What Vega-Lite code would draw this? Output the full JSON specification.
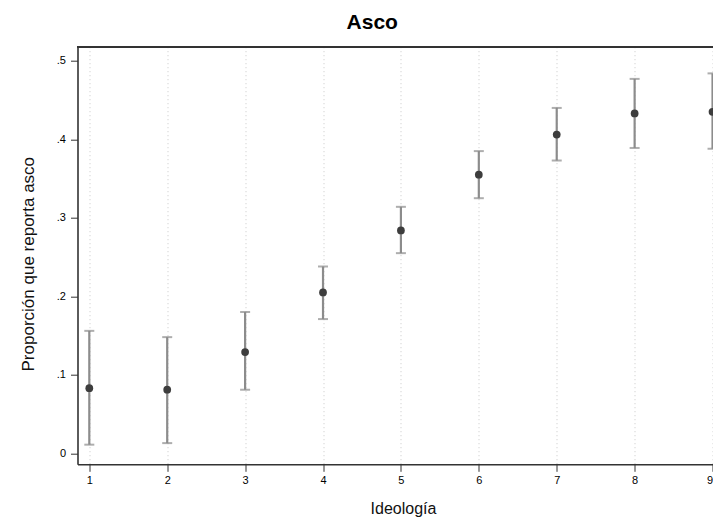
{
  "$schema": "https://vega.github.io/schema/vega-lite/v6.json",
  "width": 635.5,
  "height": 417.6,
  "autosize": {"type": "none"},
  "padding": {"left": 77.5, "top": 46.7, "right": 0, "bottom": 52.7},
  "background": "white",
  "config": {"view": {"stroke": null}, "font": "Liberation Sans"},
  "title": {"text": "Asco", "fontSize": 21, "fontWeight": "bold", "color": "#000", "anchor": "middle", "dx": -23, "baseline": "alphabetic", "offset": -4},
  "data": {"values": [
    {"ideologia": 1, "prop": 0.083, "lo": 0.011, "hi": 0.156},
    {"ideologia": 2, "prop": 0.081, "lo": 0.013, "hi": 0.148},
    {"ideologia": 3, "prop": 0.129, "lo": 0.081, "hi": 0.180},
    {"ideologia": 4, "prop": 0.205, "lo": 0.171, "hi": 0.238},
    {"ideologia": 5, "prop": 0.284, "lo": 0.255, "hi": 0.314},
    {"ideologia": 6, "prop": 0.355, "lo": 0.325, "hi": 0.385},
    {"ideologia": 7, "prop": 0.406, "lo": 0.373, "hi": 0.440},
    {"ideologia": 8, "prop": 0.433, "lo": 0.389, "hi": 0.477},
    {"ideologia": 9, "prop": 0.435, "lo": 0.388, "hi": 0.484}
  ]},
  "layer": [
    {
      "mark": {"type": "rule", "color": "#8c8c8c", "strokeWidth": 2.2},
      "encoding": {
        "x": {"field": "ideologia", "type": "quantitative",
          "scale": {"domain": [0.8485, 9.006], "nice": false, "zero": false},
          "axis": {"values": [1, 2, 3, 4, 5, 6, 7, 8, 9], "format": "d", "tickSize": 7, "tickColor": "#333", "labelPadding": 3, "labelFontSize": 11, "labelColor": "#000", "domainColor": "#333", "domainWidth": 1.6, "grid": true, "gridDash": [1, 3], "gridColor": "#c8c8c8", "gridWidth": 1, "title": "Ideología", "titleFontSize": 16, "titleFontWeight": "normal", "titleColor": "#111", "titleX": 325.5, "titleY": 44, "titleBaseline": "middle"}},
        "y": {"field": "lo", "type": "quantitative",
          "scale": {"domain": [-0.014, 0.518], "nice": false, "zero": false},
          "axis": {"values": [0, 0.1, 0.2, 0.3, 0.4, 0.5], "labelExpr": "datum.value == 0 ? '0' : replace(format(datum.value, '.1f'), '0.', '.')", "tickSize": 7, "tickColor": "#333", "labelPadding": 5, "labelFontSize": 11, "labelColor": "#000", "domainColor": "#333", "domainWidth": 1.6, "grid": false, "title": "Proporción que reporta asco", "titleFontSize": 17, "titleFontWeight": "normal", "titleColor": "#111", "titleX": -49, "titleY": 217, "titleBaseline": "middle"}},
        "y2": {"field": "hi"}
      }
    },
    {
      "mark": {"type": "tick", "orient": "horizontal", "color": "#8c8c8c", "size": 10, "thickness": 2},
      "encoding": {
        "x": {"field": "ideologia", "type": "quantitative"},
        "y": {"field": "lo", "type": "quantitative"}
      }
    },
    {
      "mark": {"type": "tick", "orient": "horizontal", "color": "#8c8c8c", "size": 10, "thickness": 2},
      "encoding": {
        "x": {"field": "ideologia", "type": "quantitative"},
        "y": {"field": "hi", "type": "quantitative"}
      }
    },
    {
      "mark": {"type": "point", "filled": true, "color": "#3d3d3d", "size": 60, "opacity": 1},
      "encoding": {
        "x": {"field": "ideologia", "type": "quantitative"},
        "y": {"field": "prop", "type": "quantitative"}
      }
    },
    {
      "mark": {"type": "rule", "color": "#333", "strokeWidth": 1.6},
      "encoding": {
        "y": {"datum": 0.518}
      }
    }
  ]
}
